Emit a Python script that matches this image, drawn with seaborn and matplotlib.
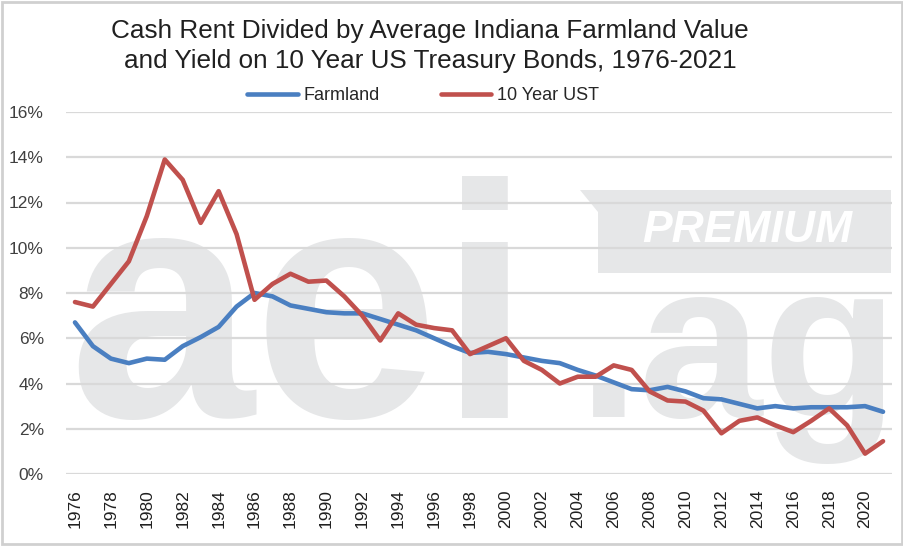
import numpy as np
import pandas as pd
import seaborn as sns
import matplotlib.pyplot as plt
from matplotlib.patches import Rectangle, Polygon

# data (percent)
years = list(range(1976, 2022))
farmland = [6.7, 5.65, 5.1, 4.9, 5.1, 5.05, 5.65, 6.05, 6.5, 7.4,
            8.0, 7.85, 7.45, 7.3, 7.15, 7.1, 7.1, 6.85, 6.6, 6.35,
            6.0, 5.65, 5.35, 5.4, 5.3, 5.15, 5.0, 4.9, 4.6, 4.35,
            4.05, 3.75, 3.7, 3.85, 3.65, 3.35, 3.3, 3.1, 2.9, 3.0,
            2.9, 2.95, 2.95, 2.95, 3.0, 2.75]
ust10 = [7.6, 7.4, 8.4, 9.4, 11.4, 13.9, 13.0, 11.1, 12.5, 10.6,
         7.7, 8.4, 8.85, 8.5, 8.55, 7.85, 7.0, 5.9, 7.1, 6.6,
         6.45, 6.35, 5.3, 5.65, 6.0, 5.0, 4.6, 4.0, 4.3, 4.3,
         4.8, 4.6, 3.65, 3.25, 3.2, 2.8, 1.8, 2.35, 2.5, 2.15,
         1.85, 2.35, 2.9, 2.15, 0.9, 1.45]
series_names = ['Farmland', '10 Year UST']
colors = ['#4a7fc1', '#c0504d']
title = 'Cash Rent Divided by Average Indiana Farmland Value\nand Yield on 10 Year US Treasury Bonds, 1976-2021'

df = pd.DataFrame({'year': years, 'Farmland': farmland, '10 Year UST': ust10})
df = df.melt(id_vars='year', var_name='series', value_name='value')

sns.set_theme(style='white')
plt.rcParams['font.family'] = ['Liberation Sans', 'DejaVu Sans']

W, H = 904, 546
fig = plt.figure(figsize=(W / 100, H / 100), dpi=100)
ax = fig.add_axes([66 / W, 1 - 474 / H, (892 - 66) / W, (474 - 112) / H])

# pixel -> figure fraction helper for the decorations
def px(x, y):
    return (x / W, 1 - y / H)

wm = '#e6e7e8'
ftr = fig.transFigure
# watermark "aei.ag PREMIUM" behind grid and lines
ax.text(*px(68, 417), 'aei', transform=ftr, ha='left', va='baseline', fontsize=240,
        fontweight='bold', color=wm, zorder=0.1, clip_on=False)
ax.text(*px(578, 417), '.ag', transform=ftr, ha='left', va='baseline', fontsize=160,
        fontweight='bold', color=wm, zorder=0.1, clip_on=False)
banner = [px(580, 190), px(891, 190), px(891, 273), px(598, 273), px(598, 212)]
ax.add_patch(Polygon(banner, closed=True, transform=ftr, facecolor=wm,
                     edgecolor='none', zorder=0.2, clip_on=False))
ax.text(*px(747, 231), 'PREMIUM', transform=ftr, ha='center', va='center', fontsize=32,
        fontweight='bold', fontstyle='italic', color='white', zorder=0.3, clip_on=False)

sns.lineplot(data=df, x='year', y='value', hue='series', palette=colors,
             hue_order=series_names, linewidth=3.3, ax=ax, legend=False, zorder=3)

ax.set_xlim(1975.5, 2021.5)
ax.set_ylim(0, 16)
ax.set_yticks(range(0, 17, 2))
ax.set_yticklabels([f'{v}%' for v in range(0, 17, 2)], fontsize=12.5, color='#404040')
ax.set_xticks(years[::2])
ax.set_xticklabels([str(y) for y in years[::2]], rotation=90, fontsize=12.5, color='#202020')
ax.set_axisbelow(True)
ax.yaxis.grid(True, color='#d9d9d9', linewidth=1.6)
ax.xaxis.grid(False)
for s in ax.spines.values():
    s.set_visible(False)
ax.tick_params(axis='y', length=0, pad=16)
ax.tick_params(axis='x', length=0, pad=11)
ax.set_xlabel('')
ax.set_ylabel('')
ax.set_facecolor('none')

# legend
handles = [plt.Line2D([], [], color=c, linewidth=3.3) for c in colors]
fig.legend(handles, series_names, loc='center', bbox_to_anchor=px(423, 96), ncol=2,
           frameon=False, handlelength=2.8, columnspacing=3.4, handletextpad=0.3,
           prop={'size': 13})

fig.text(*px(430, 46), title, ha='center', va='center', fontsize=18.8, color='#202020',
         linespacing=1.3)

fig.patches.append(Rectangle((0.002, 0.003), 0.996, 0.994, transform=fig.transFigure,
                             facecolor='none', edgecolor='#d0d0d0', linewidth=2))

fig.savefig('out.png', dpi=100)
